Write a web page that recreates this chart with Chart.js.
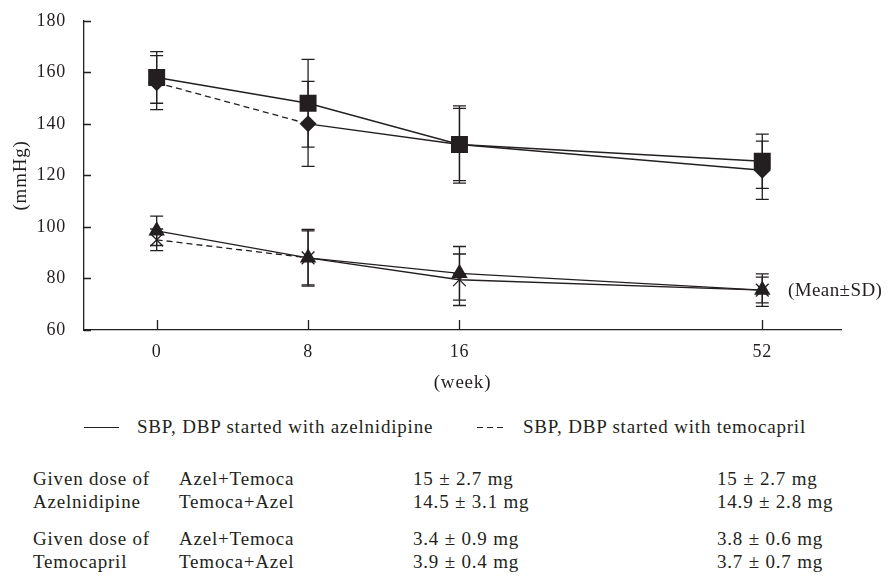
<!DOCTYPE html>
<html>
<head>
<meta charset="utf-8">
<script src="https://cdn.jsdelivr.net/npm/chart.js@4/dist/chart.umd.min.js"></script>
<style>
  body { margin: 0; background: #fff; }
  #wrap { position: relative; width: 891px; height: 580px; font-family: 'Liberation Serif', 'DejaVu Serif', serif; color: #231f20; font-size: 19px; letter-spacing: 0.8px; }
  #chartBox { position: absolute; left: 0; top: 0; width: 891px; height: 400px; }
  .t { position: absolute; white-space: nowrap; line-height: 22px; }
  .solid { position: absolute; height: 0; border-top: 1.3px solid #231f20; }
  .dashed { position: absolute; height: 1.3px; background: repeating-linear-gradient(to right, #231f20 0 6px, transparent 6px 10px); }
</style>
</head>
<body>
<div id="wrap">
  <div id="chartBox"><canvas id="bpChart"></canvas></div>
  <div class="t" style="left:788px;top:279px;letter-spacing:0.4px">(Mean±SD)</div>

  <div class="solid" style="left:84px;top:427px;width:35px"></div>
  <div class="t" style="left:137px;top:416px">SBP, DBP started with azelnidipine</div>
  <div class="dashed" style="left:477px;top:427px;width:26px"></div>
  <div class="t" style="left:523px;top:416px">SBP, DBP started with temocapril</div>

  <div class="t" style="left:33px;top:468px">Given dose of</div>
  <div class="t" style="left:33px;top:491px">Azelnidipine</div>
  <div class="t" style="left:179px;top:468px">Azel+Temoca</div>
  <div class="t" style="left:179px;top:491px">Temoca+Azel</div>
  <div class="t" style="left:413px;top:468px">15 ± 2.7 mg</div>
  <div class="t" style="left:413px;top:491px">14.5 ± 3.1 mg</div>
  <div class="t" style="left:717px;top:468px">15 ± 2.7 mg</div>
  <div class="t" style="left:717px;top:491px">14.9 ± 2.8 mg</div>

  <div class="t" style="left:33px;top:528px">Given dose of</div>
  <div class="t" style="left:33px;top:551px">Temocapril</div>
  <div class="t" style="left:179px;top:528px">Azel+Temoca</div>
  <div class="t" style="left:179px;top:551px">Temoca+Azel</div>
  <div class="t" style="left:413px;top:528px">3.4 ± 0.9 mg</div>
  <div class="t" style="left:413px;top:551px">3.9 ± 0.4 mg</div>
  <div class="t" style="left:717px;top:528px">3.8 ± 0.6 mg</div>
  <div class="t" style="left:717px;top:551px">3.7 ± 0.7 mg</div>
</div>

<script>
// Data
const weeks = ['0', '8', '16', '52'];
const weekPos = [0, 1, 2, 4]; // slot on the x axis (52 sits two slots after 16)
const yTicks = [60, 80, 100, 120, 140, 160, 180];

const sbpAzel = [158, 148, 132, 125.5];
const sbpAzelSd = [10, 17, 15, 10.5];
const sbpTemoca = [156, 140, 132, 122];
const sbpTemocaSd = [10.5, 16.5, 14, 11.3];
const dbpAzel = [98.5, 88, 82, 75.5];
const dbpAzelSd = [5.7, 11, 10.4, 6.3];
const dbpTemoca = [95, 88, 79.5, 75.5];
const dbpTemocaSd = [4.2, 10.5, 10, 5];

const ink = '#231f20';
const serif = "'Liberation Serif', 'DejaVu Serif', serif";

function pts(values) {
  return values.map((v, i) => ({ x: weekPos[i], y: v }));
}

// temocapril-first groups: dashed only for the first interval
const dashFirst = { borderDash: ctx => (ctx.p0DataIndex === 0 ? [6, 4] : undefined) };

function series(label, values, sd, style, radius, dashed) {
  return {
    label: label,
    data: pts(values),
    sd: sd,
    borderColor: ink,
    backgroundColor: ink,
    borderWidth: 1.3,
    pointStyle: style,
    pointRadius: radius,
    pointBorderWidth: style === 'crossRot' ? 1.3 : 0,
    pointBorderColor: ink,
    pointBackgroundColor: ink,
    tension: 0,
    fill: false,
    segment: dashed ? dashFirst : {},
  };
}

// Error bars and inward tick marks
const errorBars = {
  id: 'errorBars',
  beforeDatasetsDraw(chart) {
    const { ctx } = chart;
    const xs = chart.scales.x;
    const ys = chart.scales.y;
    ctx.save();
    ctx.strokeStyle = ink;
    ctx.lineWidth = 1.3;
    chart.data.datasets.forEach(ds => {
      ds.data.forEach((p, i) => {
        const x = xs.getPixelForValue(p.x);
        const top = ys.getPixelForValue(p.y + ds.sd[i]);
        const bot = ys.getPixelForValue(p.y - ds.sd[i]);
        ctx.beginPath();
        ctx.moveTo(x, top);
        ctx.lineTo(x, bot);
        ctx.moveTo(x - 6.5, top);
        ctx.lineTo(x + 6.5, top);
        ctx.moveTo(x - 6.5, bot);
        ctx.lineTo(x + 6.5, bot);
        ctx.stroke();
      });
    });
    ctx.restore();
  },
  afterDraw(chart) {
    const { ctx, chartArea } = chart;
    const xs = chart.scales.x;
    const ys = chart.scales.y;
    ctx.save();
    ctx.strokeStyle = ink;
    ctx.lineWidth = 1.3;
    ctx.beginPath();
    yTicks.forEach(v => {
      const y = Math.round(ys.getPixelForValue(v)) + 0.5;
      ctx.moveTo(chartArea.left, y);
      ctx.lineTo(chartArea.left + 7, y);
    });
    weekPos.forEach(v => {
      const x = Math.round(xs.getPixelForValue(v)) + 0.5;
      ctx.moveTo(x, chartArea.bottom);
      ctx.lineTo(x, chartArea.bottom - 10);
    });
    ctx.stroke();
    ctx.restore();
  },
};

new Chart(document.getElementById('bpChart'), {
  type: 'line',
  data: {
    datasets: [
      series('SBP azelnidipine', sbpAzel, sbpAzelSd, 'rect', 12, false),
      series('SBP temocapril', sbpTemoca, sbpTemocaSd, 'rectRot', 8.5, true),
      series('DBP azelnidipine', dbpAzel, dbpAzelSd, 'triangle', 9.5, false),
      series('DBP temocapril', dbpTemoca, dbpTemocaSd, 'crossRot', 9, true),
    ],
  },
  options: {
    responsive: true,
    maintainAspectRatio: false,
    animation: false,
    events: [],
    layout: { padding: { left: 0, top: 17, right: 50, bottom: 0 } },
    plugins: { legend: { display: false }, tooltip: { enabled: false } },
    scales: {
      x: {
        type: 'linear',
        min: -0.48,
        max: 4.52,
        afterBuildTicks: axis => { axis.ticks = weekPos.map(v => ({ value: v })); },
        afterFit: axis => { axis.height = 70; },
        ticks: {
          color: ink,
          font: { family: serif, size: 18 },
          padding: 3,
          callback: value => weeks[weekPos.indexOf(value)],
        },
        grid: { display: false },
        border: { display: true, color: ink, width: 1.3 },
        title: {
          display: true,
          text: '(week)',
          color: ink,
          font: { family: serif, size: 19 },
          padding: { top: 0, bottom: 6 },
        },
      },
      y: {
        min: 60,
        max: 180,
        afterBuildTicks: axis => { axis.ticks = yTicks.map(v => ({ value: v })); },
        afterFit: axis => { axis.width = 84; },
        ticks: { color: ink, font: { family: serif, size: 18 }, padding: 10 },
        grid: { display: false },
        border: { display: true, color: ink, width: 1.3 },
        title: {
          display: true,
          text: '(mmHg)',
          color: ink,
          font: { family: serif, size: 19 },
          padding: { top: 10, bottom: 0 },
        },
      },
    },
  },
  plugins: [errorBars],
});
</script>
</body>
</html>
